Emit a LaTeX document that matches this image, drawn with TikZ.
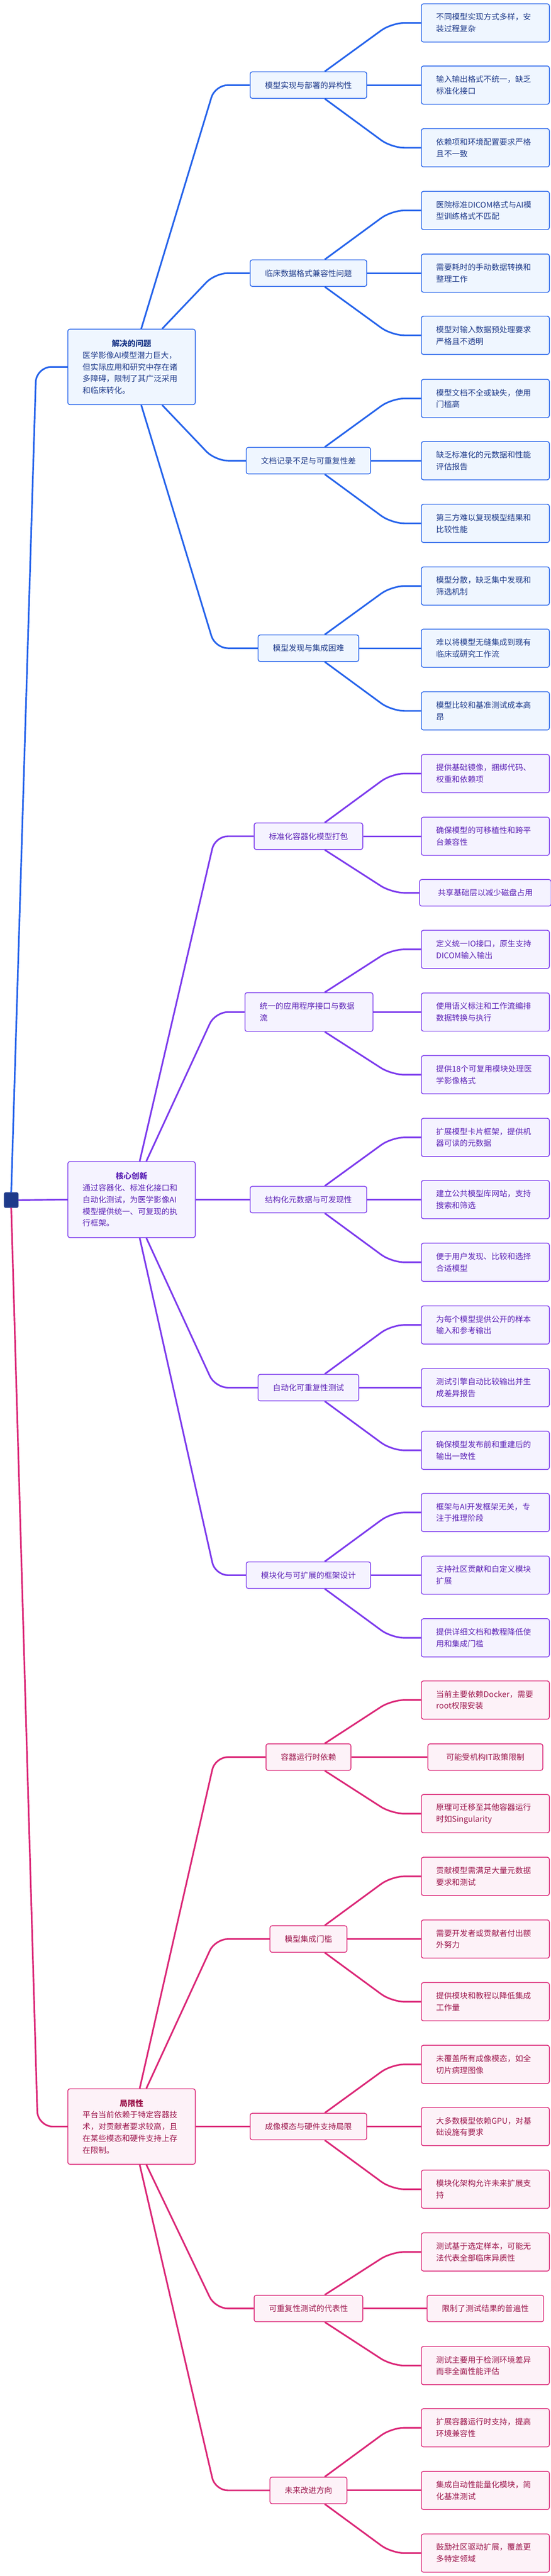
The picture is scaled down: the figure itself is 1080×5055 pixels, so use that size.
\documentclass[tikz,border=0pt]{standalone}
\usepackage{fontspec}
\setmainfont{Noto Sans CJK SC}
\definecolor{bl}{HTML}{2563EB}\definecolor{blf}{HTML}{EFF6FF}\definecolor{blt}{HTML}{1E3A8A}
\definecolor{pu}{HTML}{7C3AED}\definecolor{puf}{HTML}{F5F3FF}\definecolor{put}{HTML}{5B21B6}
\definecolor{pk}{HTML}{DB2777}\definecolor{pkf}{HTML}{FDF2F8}\definecolor{pkt}{HTML}{9D174D}
\definecolor{navy}{HTML}{1E3A8A}
\begin{document}
\begin{tikzpicture}[x=1pt,y=-1pt,
  box/.style={rectangle,rounded corners=4pt,line width=1.5pt,font=\fontsize{15.5}{23}\selectfont},
  leaf/.style={box,text width=193pt,align=left,inner xsep=29pt,minimum height=75pt},
  one/.style={box,inner xsep=36pt,minimum height=52pt},
  mid/.style={box,inner xsep=29pt,minimum height=52pt},
  midtwo/.style={box,text width=193pt,align=left,inner xsep=29pt,minimum height=76pt},
  root/.style={box,text width=192pt,align=left,inner xsep=29pt,minimum height=148pt},
  B/.style={draw=bl,fill=blf,text=blt},
  P/.style={draw=pu,fill=puf,text=put},
  K/.style={draw=pk,fill=pkf,text=pkt},
  c/.style={line width=3.2pt,rounded corners=25pt},
  cB/.style={c,draw=bl}, cP/.style={c,draw=pu}, cK/.style={c,draw=pk}]
\fill[white] (0,0) rectangle (1080,5055);
\useasboundingbox (0,0) rectangle (1080,5055);
\coordinate (cx) at (637,0); \coordinate (bx) at (768,0);
\coordinate (ro1) at (277,0); \coordinate (ri1) at (318,0);
\coordinate (ro2) at (274,0); \coordinate (ri2) at (287,0);
\coordinate (kx) at (422,0);

% center
\node[draw=navy,fill=navy,rounded corners=3pt,minimum width=28pt,minimum height=30pt,inner sep=0pt] (root) at (22,2355) {};

% roots
\node[root,B] (R1) at (258,720) {\makebox[192pt]{\bfseries 解决的问题}\\医学影像AI模型潜力巨大，\\但实际应用和研究中存在诸\\多障碍，限制了其广泛采用\\和临床转化。};
\node[root,P,minimum height=149pt] (R2) at (258,2354) {\makebox[192pt]{\bfseries 核心创新}\\通过容器化、标准化接口和\\自动化测试，为医学影像AI\\模型提供统一、可复现的执\\行框架。};
\node[root,K] (R3) at (258,4173) {\makebox[192pt]{\bfseries 局限性}\\平台当前依赖于特定容器技\\术，对贡献者要求较高，且\\在某些模态和硬件支持上存\\在限制。};

% group 1
\node[mid,B] (A1) at (605,167) {模型实现与部署的异构性};
\node[mid,B] (A2) at (605,536) {临床数据格式兼容性问题};
\node[mid,B] (A3) at (605,904) {文档记录不足与可重复性差};
\node[mid,B] (A4) at (605,1272) {模型发现与集成困难};
\node[leaf,B] (a11) at (952,45) {不同模型实现方式多样，安\\装过程复杂};
\node[leaf,B] (a12) at (952,167) {输入输出格式不统一，缺乏\\标准化接口};
\node[leaf,B] (a13) at (952,290) {依赖项和环境配置要求严格\\且不一致};
\node[leaf,B] (a21) at (952,413) {医院标准DICOM格式与AI模\\型训练格式不匹配};
\node[leaf,B] (a22) at (952,536) {需要耗时的手动数据转换和\\整理工作};
\node[leaf,B] (a23) at (952,658) {模型对输入数据预处理要求\\严格且不透明};
\node[leaf,B] (a31) at (952,782) {模型文档不全或缺失，使用\\门槛高};
\node[leaf,B] (a32) at (952,904) {缺乏标准化的元数据和性能\\评估报告};
\node[leaf,B] (a33) at (952,1027) {第三方难以复现模型结果和\\比较性能};
\node[leaf,B] (a41) at (952,1150) {模型分散，缺乏集中发现和\\筛选机制};
\node[leaf,B] (a42) at (952,1272) {难以将模型无缝集成到现有\\临床或研究工作流};
\node[leaf,B] (a43) at (952,1395) {模型比较和基准测试成本高\\昂};

% group 2
\node[mid,P] (B1) at (605,1641) {标准化容器化模型打包};
\node[midtwo,P] (B2) at (606,1986) {统一的应用程序接口与数据\\流};
\node[mid,P] (B3) at (605,2354) {结构化元数据与可发现性};
\node[mid,P] (B4) at (605,2723) {自动化可重复性测试};
\node[mid,P] (B5) at (605,3091) {模块化与可扩展的框架设计};
\node[leaf,P] (b11) at (952,1518) {提供基础镜像，捆绑代码、\\权重和依赖项};
\node[leaf,P] (b12) at (952,1641) {确保模型的可移植性和跨平\\台兼容性};
\node[one,P] (b13) at (952,1752) {共享基础层以减少磁盘占用};
\node[leaf,P] (b21) at (952,1863) {定义统一IO接口，原生支持\\DICOM输入输出};
\node[leaf,P] (b22) at (952,1986) {使用语义标注和工作流编排\\数据转换与执行};
\node[leaf,P] (b23) at (952,2109) {提供18个可复用模块处理医\\学影像格式};
\node[leaf,P] (b31) at (952,2232) {扩展模型卡片框架，提供机\\器可读的元数据};
\node[leaf,P] (b32) at (952,2354) {建立公共模型库网站，支持\\搜索和筛选};
\node[leaf,P] (b33) at (952,2477) {便于用户发现、比较和选择\\合适模型};
\node[leaf,P] (b41) at (952,2600) {为每个模型提供公开的样本\\输入和参考输出};
\node[leaf,P] (b42) at (952,2723) {测试引擎自动比较输出并生\\成差异报告};
\node[leaf,P] (b43) at (952,2846) {确保模型发布前和重建后的\\输出一致性};
\node[leaf,P] (b51) at (952,2968) {框架与AI开发框架无关，专\\注于推理阶段};
\node[leaf,P] (b52) at (952,3091) {支持社区贡献和自定义模块\\扩展};
\node[leaf,P] (b53) at (952,3214) {提供详细文档和教程降低使\\用和集成门槛};

% group 3
\node[mid,K] (C1) at (605,3448) {容器运行时依赖};
\node[mid,K] (C2) at (605,3805) {模型集成门槛};
\node[mid,K] (C3) at (605,4173) {成像模态与硬件支持局限};
\node[mid,K] (C4) at (605,4530) {可重复性测试的代表性};
\node[mid,K] (C5) at (605,4887) {未来改进方向};
\node[leaf,K] (c11) at (952,3336) {当前主要依赖Docker，需要\\root权限安装};
\node[one,K] (c12) at (952,3448) {可能受机构IT政策限制};
\node[leaf,K] (c13) at (952,3559) {原理可迁移至其他容器运行\\时如Singularity};
\node[leaf,K] (c21) at (952,3682) {贡献模型需满足大量元数据\\要求和测试};
\node[leaf,K] (c22) at (952,3805) {需要开发者或贡献者付出额\\外努力};
\node[leaf,K] (c23) at (952,3928) {提供模块和教程以降低集成\\工作量};
\node[leaf,K] (c31) at (952,4051) {未覆盖所有成像模态，如全\\切片病理图像};
\node[leaf,K] (c32) at (952,4173) {大多数模型依赖GPU，对基\\础设施有要求};
\node[leaf,K] (c33) at (952,4296) {模块化架构允许未来扩展支\\持};
\node[leaf,K] (c41) at (952,4419) {测试基于选定样本，可能无\\法代表全部临床异质性};
\node[one,K,inner xsep=29pt] (c42) at (952,4530) {限制了测试结果的普遍性};
\node[leaf,K] (c43) at (952,4642) {测试主要用于检测环境差异\\而非全面性能评估};
\node[leaf,K] (c51) at (952,4764) {扩展容器运行时支持，提高\\环境兼容性};
\node[leaf,K] (c52) at (952,4887) {集成自动性能量化模块，简\\化基准测试};
\node[leaf,K] (c53) at (952,5010) {鼓励社区驱动扩展，覆盖更\\多特定领域};

% center connectors
\draw[cB,rounded corners=30pt] (root.north) -- (71,720) -- (R1.west);
\draw[cP] (root.east) -- (R2.west);
\draw[cK,rounded corners=30pt] (root.south) -- (74,4173) -- (R3.west);

% root -> L2
\draw[cB] (R1.north -| ro1) -- (A1.west -| kx) -- (A1.west);
\draw[cB] (R1.north -| ri1) -- (A2.west -| kx) -- (A2.west);
\draw[cB] (R1.south -| ri1) -- (A3.west -| kx) -- (A3.west);
\draw[cB] (R1.south -| ro1) -- (A4.west -| kx) -- (A4.west);
\draw[cP] (R2.north -| ro2) -- (B1.west -| kx) -- (B1.west);
\draw[cP] (R2.north -| ri2) -- (B2.west -| kx) -- (B2.west);
\draw[cP] (R2.east) -- (B3.west);
\draw[cP] (R2.south -| ri2) -- (B4.west -| kx) -- (B4.west);
\draw[cP] (R2.south -| ro2) -- (B5.west -| kx) -- (B5.west);
\draw[cK] (R3.north -| ro2) -- (C1.west -| kx) -- (C1.west);
\draw[cK] (R3.north -| ri2) -- (C2.west -| kx) -- (C2.west);
\draw[cK] (R3.east) -- (C3.west);
\draw[cK] (R3.south -| ri2) -- (C4.west -| kx) -- (C4.west);
\draw[cK] (R3.south -| ro2) -- (C5.west -| kx) -- (C5.west);

% L2 -> leaves
\foreach \m/\s/\g in {A1/a1/cB,A2/a2/cB,A3/a3/cB,A4/a4/cB,B1/b1/cP,B2/b2/cP,B3/b3/cP,B4/b4/cP,B5/b5/cP,C1/c1/cK,C2/c2/cK,C3/c3/cK,C4/c4/cK,C5/c5/cK}{
  \draw[\g] (\m.north -| cx) -- (\s1.west -| bx) -- (\s1.west);
  \draw[\g] (\m.east) -- (\s2.west);
  \draw[\g] (\m.south -| cx) -- (\s3.west -| bx) -- (\s3.west);
}
\end{tikzpicture}
\end{document}
